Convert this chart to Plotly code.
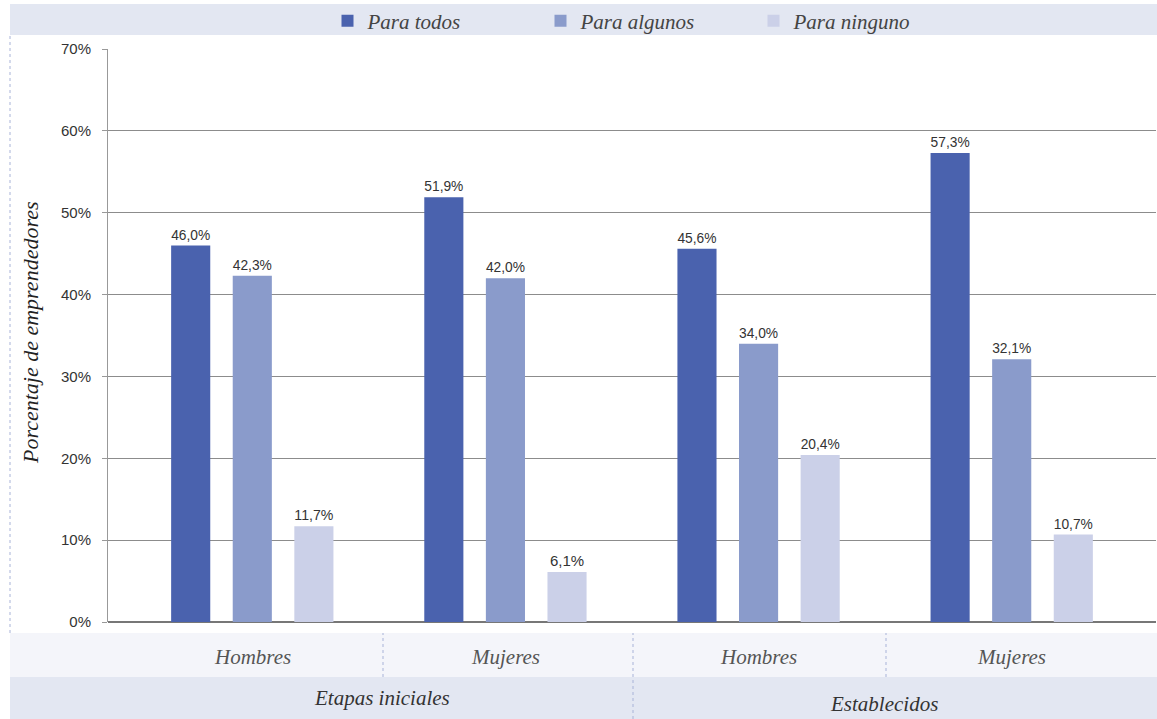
import plotly.graph_objects as go

# ---- data ----
stages = ["Etapas iniciales", "Etapas iniciales", "Establecidos", "Establecidos"]
genders = ["Hombres", "Mujeres", "Hombres", "Mujeres"]
series_names = ["Para todos", "Para algunos", "Para ninguno"]
para_todos = [46.0, 51.9, 45.6, 57.3]
para_algunos = [42.3, 42.0, 34.0, 32.1]
para_ninguno = [11.7, 6.1, 20.4, 10.7]
y_ticks = [0, 10, 20, 30, 40, 50, 60, 70]
y_tick_labels = [f"{v}%" for v in y_ticks]

colors = ["#4A62AE", "#8A9BCB", "#CBD0E8"]
x_keys = [f"{s} | {g}" for s, g in zip(stages, genders)]

W, H = 1157, 719
L, R, T, B = 108, 1, 49, 97
pw = W - L - R
ph = H - T - B


def px_x(p):
    return (p - L) / pw


def px_y(p):
    return (H - B - p) / ph


sans = "Liberation Sans, Arial, sans-serif"
serif = "Liberation Serif, Times New Roman, serif"

fig = go.Figure()
for name, vals, col in zip(series_names, [para_todos, para_algunos, para_ninguno], colors):
    fig.add_trace(go.Bar(
        x=x_keys, y=vals, name=name, marker_color=col, marker_line_width=0,
        texttemplate="%{y:.1f}%", textposition="outside",
        textfont=dict(family=sans, size=15, color="#333"),
        cliponaxis=False,
    ))

shapes = []
# legend band
shapes.append(dict(type="rect", xref="paper", yref="paper", x0=px_x(10), x1=px_x(1157),
                   y0=px_y(35), y1=px_y(4), fillcolor="#E3E7F2", line_width=0, layer="below"))
# bottom bands
shapes.append(dict(type="rect", xref="paper", yref="paper", x0=px_x(10), x1=px_x(1157),
                   y0=px_y(677), y1=px_y(633), fillcolor="#F4F5FA", line_width=0, layer="below"))
shapes.append(dict(type="rect", xref="paper", yref="paper", x0=px_x(10), x1=px_x(1157),
                   y0=px_y(719), y1=px_y(677), fillcolor="#E3E7F2", line_width=0, layer="below"))
# dotted separators
dot = dict(color="#A8B3D8", width=1, dash="dot")
shapes.append(dict(type="line", xref="paper", yref="paper", x0=px_x(10), x1=px_x(10),
                   y0=px_y(633), y1=px_y(35), line=dot))
for xp, ybot in [(383, 677), (633, 719), (886, 677)]:
    shapes.append(dict(type="line", xref="paper", yref="paper", x0=px_x(xp), x1=px_x(xp),
                       y0=px_y(ybot), y1=px_y(633), line=dot))

annotations = []
for i, g in enumerate(genders):
    annotations.append(dict(x=i, xref="x", y=px_y(657), yref="paper", text=g, showarrow=False,
                            font=dict(family=serif, size=21, color="#555", style="italic"),
                            xanchor="center", yanchor="middle"))
annotations.append(dict(x=px_x(382), xref="paper", y=px_y(698), yref="paper", text=stages[0],
                        showarrow=False, font=dict(family=serif, size=21, color="#333", style="italic"),
                        xanchor="center", yanchor="middle"))
annotations.append(dict(x=px_x(884), xref="paper", y=px_y(704), yref="paper", text=stages[2],
                        showarrow=False, font=dict(family=serif, size=21, color="#333", style="italic"),
                        xanchor="center", yanchor="middle"))
annotations.append(dict(x=px_x(30), xref="paper", y=px_y(333), yref="paper",
                        text="Porcentaje de emprendedores", textangle=-90, showarrow=False,
                        font=dict(family=serif, size=22, color="#222", style="italic"),
                        xanchor="center", yanchor="middle"))

fig.update_layout(
    width=W, height=H,
    margin=dict(l=L, r=R, t=T, b=B),
    paper_bgcolor="white", plot_bgcolor="white",
    separators=",.",
    barmode="group", bargap=0.27, bargroupgap=0.365,
    showlegend=True,
    legend=dict(orientation="h", x=px_x(647), xanchor="center", y=px_y(21), yanchor="middle",
                bgcolor="rgba(0,0,0,0)", entrywidth=168,
                font=dict(family=serif, size=21, color="#444", style="italic")),
    shapes=shapes, annotations=annotations,
)
fig.update_xaxes(showticklabels=False, ticks="", showgrid=False, range=[-0.57, 3.57],
                 showline=False, zeroline=False, fixedrange=True)
fig.update_yaxes(range=[0, 70], tickvals=y_ticks, ticktext=y_tick_labels, showgrid=True,
                 gridcolor="#8C8C8C", gridwidth=1, zeroline=True, zerolinecolor="#777",
                 zerolinewidth=1.5, showline=True, linecolor="#999", linewidth=1,
                 ticks="outside", ticklen=5, tickcolor="#999", ticklabelstandoff=8,
                 tickfont=dict(family=sans, size=15, color="#333"))

fig.write_html("out.html")
